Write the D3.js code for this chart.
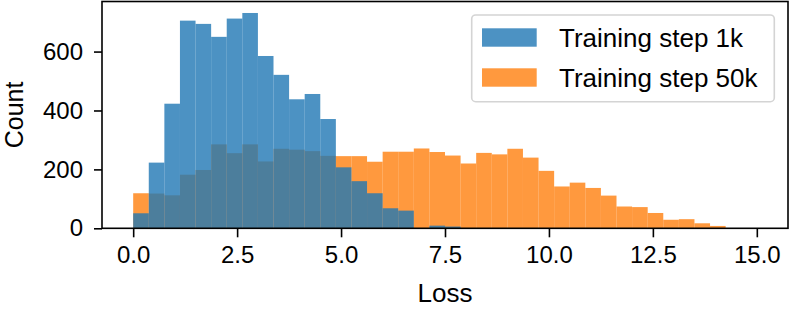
<!DOCTYPE html>
<html>
<head>
<meta charset="utf-8">
<script src="https://cdn.jsdelivr.net/npm/d3@7"></script>
<style>
  html, body { margin: 0; padding: 0; background: #fff; }
  svg { display: block; font-family: "Liberation Sans", Arial, Helvetica, sans-serif; }
</style>
</head>
<body>
<svg id="chart" width="790" height="311"></svg>
<script>
// ---- Data ----
const binStart = 0;
const binWidth = 0.375;
const step1k = [51, 223, 423, 705, 694, 650, 712, 731, 585, 521, 438, 456, 371, 207, 160, 119, 68, 60, 0, 9,
                6, 0, 0, 0, 0, 0, 0, 0, 0, 0, 0, 0, 0, 0, 0, 0, 0, 0, 0, 0];
const step50k = [119, 118, 112, 182, 198, 285, 255, 285, 227, 270, 267, 262, 246, 245, 245, 226, 260, 260, 271, 259,
                 247, 220, 256, 251, 270, 240, 195, 142, 155, 137, 111, 74, 72, 52, 29, 31, 17, 8, 0, 0];
const seriesNames = ["Training step 1k", "Training step 50k"];
const xTicks = [0, 2.5, 5, 7.5, 10, 12.5, 15];
const yTicks = [0, 200, 400, 600];
const xLabel = "Loss";
const yLabel = "Count";

// ---- Layout ----
const L = 102, R = 788, T = 1.5, B = 228.3;
const svg = d3.select("#chart");
const x = d3.scaleLinear().domain([-0.75, 15.75]).range([L, R]);
const y = d3.scaleLinear().domain([0, 770]).range([B, T]);

const colors = ["rgba(31,119,180,0.8)", "rgba(255,127,14,0.8)"];

function bins(vals) {
  return vals.map((v, i) => ({ x0: binStart + i * binWidth, x1: binStart + (i + 1) * binWidth, v }));
}

// orange drawn first, blue on top
const layers = [
  { data: bins(step50k), color: colors[1] },
  { data: bins(step1k), color: colors[0] }
];
layers.forEach(layer => {
  svg.append("g").selectAll("rect")
    .data(layer.data.filter(d => d.v > 0))
    .join("rect")
    .attr("x", d => x(d.x0))
    .attr("width", d => x(d.x1) - x(d.x0))
    .attr("y", d => y(d.v))
    .attr("height", d => y(0) - y(d.v))
    .attr("fill", layer.color);
});

// ---- Axes ----
const fmtX = d3.format(".1f");
const xAxis = svg.append("g")
  .attr("transform", `translate(0,${B})`)
  .call(d3.axisBottom(x).tickValues(xTicks).tickFormat(fmtX).tickSize(9).tickPadding(9));
const yAxis = svg.append("g")
  .attr("transform", `translate(${L},0)`)
  .call(d3.axisLeft(y).tickValues(yTicks).tickFormat(d3.format("d")).tickSize(8).tickPadding(11));

[xAxis, yAxis].forEach(a => {
  a.select(".domain").remove();
  a.selectAll(".tick line").attr("stroke", "#000").attr("stroke-width", 1.6);
  a.selectAll(".tick text").attr("fill", "#000").style("font-size", "24px")
    .style("font-family", '"Liberation Sans", Arial, sans-serif');
});

// frame
svg.append("rect")
  .attr("x", L).attr("y", T).attr("width", R - L).attr("height", B - T)
  .attr("fill", "none").attr("stroke", "#000").attr("stroke-width", 1.6);

// labels
svg.append("text")
  .attr("x", (L + R) / 2).attr("y", 302)
  .attr("text-anchor", "middle").style("font-size", "26px").text(xLabel);
svg.append("text")
  .attr("transform", `translate(23,${(T + B) / 2}) rotate(-90)`)
  .attr("text-anchor", "middle").style("font-size", "25px").text(yLabel);

// ---- Legend ----
const lg = svg.append("g");
lg.append("rect")
  .attr("x", 471.7).attr("y", 15).attr("width", 302.6).attr("height", 86.7)
  .attr("rx", 4).attr("ry", 4)
  .attr("fill", "rgba(255,255,255,0.8)").attr("stroke", "#d4d4d4").attr("stroke-width", 1.6);
seriesNames.forEach((name, i) => {
  const cy = 37.5 + i * 40;
  lg.append("rect")
    .attr("x", 482).attr("y", cy - 9.2).attr("width", 54.7).attr("height", 18.4)
    .attr("fill", colors[i]);
  lg.append("text")
    .attr("x", 559).attr("y", cy).attr("dy", "0.36em")
    .style("font-size", "26px").text(name);
});
</script>
</body>
</html>
